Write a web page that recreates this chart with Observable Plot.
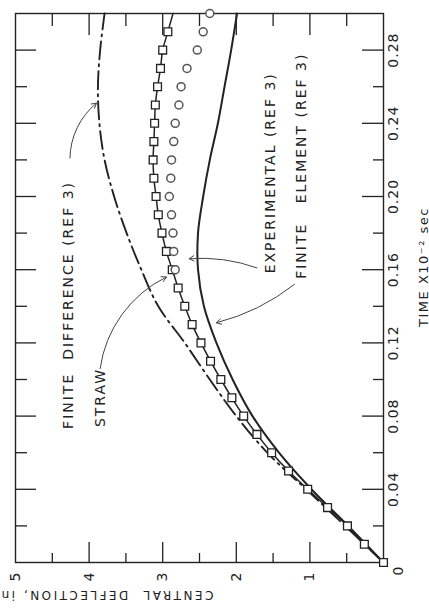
<!DOCTYPE html>
<html><head><meta charset="utf-8">
<script src="https://cdn.jsdelivr.net/npm/d3@7"></script>
<script src="https://cdn.jsdelivr.net/npm/@observablehq/plot@0.6"></script>
<style>
html,body{margin:0;padding:0;background:#fff;}
#wrap{position:relative;width:429px;height:613px;overflow:hidden;background:#fff;}
#chart{position:absolute;left:0;top:0;width:613px;height:429px;transform-origin:0 0;transform:translate(0,613px) rotate(-90deg);}
#chart svg text{letter-spacing:1px;}
</style></head><body>
<div id="wrap"><div id="chart"></div></div>
<script>
// ---- data (time in 10^-2 sec, central deflection in inches) ----
const strawT = [0,0.01,0.02,0.03,0.04,0.05,0.06,0.07,0.08,0.09,0.10,0.11,0.12,0.13,0.14,0.15,0.16,0.17,0.18,0.19,0.20,0.21,0.22,0.23,0.24,0.25,0.26,0.27,0.28,0.29,0.30];
const strawD = [0,0.26,0.49,0.76,1.03,1.29,1.52,1.72,1.90,2.06,2.21,2.35,2.48,2.60,2.70,2.79,2.87,2.95,3.01,3.06,3.09,3.12,3.13,3.12,3.11,3.10,3.07,3.03,3.00,2.93,2.86];
const expT = [0.16,0.17,0.18,0.19,0.20,0.21,0.22,0.23,0.24,0.25,0.26,0.27,0.28,0.29,0.30];
const expD = [2.83,2.85,2.86,2.88,2.91,2.89,2.88,2.85,2.83,2.78,2.75,2.67,2.53,2.45,2.36];
const feT = [0,0.02,0.04,0.06,0.08,0.10,0.12,0.14,0.16,0.18,0.20,0.22,0.24,0.26,0.28,0.30];
const feD = [0,0.48,0.98,1.42,1.78,2.05,2.27,2.44,2.52,2.52,2.45,2.36,2.25,2.16,2.07,1.99];
const fdT = [0,0.02,0.04,0.06,0.08,0.10,0.12,0.14,0.16,0.18,0.20,0.22,0.24,0.26,0.28,0.30];
const fdD = [0,0.52,1.05,1.58,2.00,2.36,2.70,3.06,3.29,3.49,3.66,3.79,3.86,3.88,3.85,3.79];
const timeMajor = [0.04,0.08,0.12,0.16,0.20,0.24,0.28];
const timeMinor = [0.02,0.06,0.10,0.14,0.18,0.22,0.26];
const timeLabels = ["0.04","0.08","0.12","0.16","0.20","0.24","0.28"];
const deflMajor = [1,2,3,4];
const deflMinor = [0.5,1.5,2.5,3.5,4.5];
const deflTicks = [1,2,3,4,5];
const deflLabels = ["1","2","3","4","5"];
const noteLabels = ["FINITE  DIFFERENCE (REF 3)","STRAW","EXPERIMENTAL (REF 3)","FINITE   ELEMENT (REF 3)"];
const xTitle = "TIME X10\u207B\u00B2 sec";
const yTitle = "CENTRAL  DEFLECTION, in";

// ---- build tables ----
const straw = strawT.map((t,i)=>({t, d:strawD[i]}));
const exper = expT.map((t,i)=>({t, d:expD[i]}));
const fe = feT.map((t,i)=>({t, d:feD[i]}));
const fd = fdT.map((t,i)=>({t, d:fdD[i]}));

// annotation placement (data coordinates)
const notes = [
  {text:noteLabels[0], t:0.073, d:4.28},
  {text:noteLabels[1], t:0.074, d:3.85},
  {text:noteLabels[2], t:0.158, d:1.54},
  {text:noteLabels[3], t:0.155, d:1.11}
];
const arrows = [
  {t1:0.221, d1:4.26, t2:0.251, d2:3.90, bend:25},
  {t1:0.106, d1:3.85, t2:0.156, d2:2.95, bend:28},
  {t1:0.161, d1:1.72, t2:0.166, d2:2.64, bend:-12},
  {t1:0.152, d1:1.21, t2:0.131, d2:2.27, bend:12}
];

const W=613, H=429, ML=50, MR=14, MT=15, MB=46;
const PW=W-ML-MR, PH=H-MT-MB;
const MAJ=21, MIN=10;
const ink="#222";

const chart = Plot.plot({
  width:W, height:H, marginLeft:ML, marginRight:MR, marginTop:MT, marginBottom:MB,
  x:{domain:[0,0.30], axis:null},
  y:{domain:[0,5], axis:null},
  style:{fontFamily:"'DejaVu Sans', sans-serif", background:"white", color:ink},
  marks:[
    // ticks, inward on all four sides
    Plot.tickX(timeMajor,{x:d=>d, insetTop:PH-MAJ, stroke:ink, strokeWidth:1.3}),
    Plot.tickX(timeMinor,{x:d=>d, insetTop:PH-MIN, stroke:ink, strokeWidth:1.3}),
    Plot.tickX(timeMajor,{x:d=>d, insetBottom:PH-MAJ, stroke:ink, strokeWidth:1.3}),
    Plot.tickX(timeMinor,{x:d=>d, insetBottom:PH-MIN-2, stroke:ink, strokeWidth:1.3}),
    Plot.tickY(deflMajor,{y:d=>d, insetRight:PW-MAJ, stroke:ink, strokeWidth:1.3}),
    Plot.tickY(deflMinor,{y:d=>d, insetRight:PW-MIN, stroke:ink, strokeWidth:1.3}),
    Plot.tickY(deflMajor,{y:d=>d, insetLeft:PW-MAJ, stroke:ink, strokeWidth:1.3}),
    Plot.tickY(deflMinor,{y:d=>d, insetLeft:PW-MIN-2, stroke:ink, strokeWidth:1.3}),
    Plot.frame({stroke:ink, strokeWidth:1.4}),
    // tick labels
    Plot.text(timeMajor,{x:d=>d, text:(d,i)=>timeLabels[i], frameAnchor:"bottom", lineAnchor:"top", dy:5, fontSize:14, fill:ink}),
    Plot.text(deflTicks,{y:d=>d, text:(d,i)=>deflLabels[i], frameAnchor:"left", textAnchor:"end", dx:-9, fontSize:14, fill:ink}),
    Plot.text([0],{x:d=>d, y:d=>d, text:()=>"0", dx:-8, dy:15, fontSize:14, fill:ink}),
    // axis titles
    Plot.text([xTitle],{frameAnchor:"bottom", lineAnchor:"bottom", dx:21, dy:44, fontSize:13, fill:ink}),
    Plot.text([yTitle],{frameAnchor:"left", rotate:-90, lineAnchor:"bottom", dx:-28, dy:14, fontSize:12, fill:ink}),
    // series
    Plot.line(fd,{x:"t", y:"d", curve:"catmull-rom", stroke:ink, strokeWidth:1.9, strokeDasharray:"18,5,2,5"}),
    Plot.line(fe,{x:"t", y:"d", curve:"catmull-rom", stroke:ink, strokeWidth:2}),
    Plot.line(straw,{x:"t", y:"d", curve:"catmull-rom", stroke:ink, strokeWidth:1.5}),
    Plot.dot(straw.filter(p=>p.t<0.295),{x:"t", y:"d", symbol:"square", r:4.4, fill:"white", stroke:ink, strokeWidth:1.3}),
    Plot.dot(exper,{x:"t", y:"d", r:4, fill:"white", stroke:"#555", strokeWidth:1.5}),
    // annotations
    Plot.text(notes,{x:"t", y:"d", text:"text", textAnchor:"start", lineAnchor:"middle", fontSize:14, fill:ink}),
    ...arrows.map(a=>Plot.arrow([a],{x1:"t1", y1:"d1", x2:"t2", y2:"d2", bend:a.bend, stroke:"#444", strokeWidth:1, headLength:8}))
  ]
});
document.getElementById("chart").appendChild(chart);
// letter spacing tuned per text
d3.select(chart).selectAll("text").each(function(){
  const s=this.textContent;
  if(s===yTitle) this.style.letterSpacing="2.5px";
  if(s===xTitle) this.style.letterSpacing="1.5px";
  if(noteLabels.includes(s)) this.style.letterSpacing="2px";
});
</script>
</body></html>
